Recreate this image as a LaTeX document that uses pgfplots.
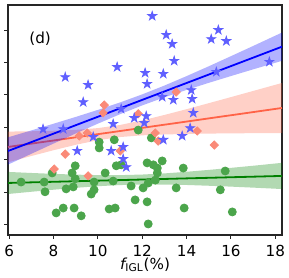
\documentclass[border=0pt]{standalone}
\usepackage{fontspec}
\setmainfont{DejaVu Sans}
\usepackage{pgfplots}
\pgfplotsset{compat=1.18}
\definecolor{starc}{RGB}{95,95,255}
\definecolor{diac}{RGB}{250,138,120}
\definecolor{circc}{RGB}{75,165,75}
\definecolor{tomatoc}{RGB}{255,99,71}
\definecolor{greenc}{RGB}{0,128,0}
\pgfdeclareplotmark{fstar}{%
  \pgfpathmoveto{\pgfqpointpolar{90}{\pgfplotmarksize}}%
  \pgfpathlineto{\pgfqpointpolar{126}{0.382\pgfplotmarksize}}%
  \pgfpathlineto{\pgfqpointpolar{162}{\pgfplotmarksize}}%
  \pgfpathlineto{\pgfqpointpolar{198}{0.382\pgfplotmarksize}}%
  \pgfpathlineto{\pgfqpointpolar{234}{\pgfplotmarksize}}%
  \pgfpathlineto{\pgfqpointpolar{270}{0.382\pgfplotmarksize}}%
  \pgfpathlineto{\pgfqpointpolar{306}{\pgfplotmarksize}}%
  \pgfpathlineto{\pgfqpointpolar{342}{0.382\pgfplotmarksize}}%
  \pgfpathlineto{\pgfqpointpolar{18}{\pgfplotmarksize}}%
  \pgfpathlineto{\pgfqpointpolar{54}{0.382\pgfplotmarksize}}%
  \pgfpathclose
  \pgfusepathqfillstroke}
\begin{document}
\begin{tikzpicture}
\begin{axis}[
  at={(0,0)}, anchor=south west,
  scale only axis, width=137pt, height=115pt,
  xmin=5.95, xmax=18.3, ymin=-0.31, ymax=6.77,
  xtick={6,8,...,18}, ytick={0,...,6}, yticklabels={},
  tick align=outside, xtick pos=bottom, ytick pos=left,
  major tick length=1.8pt,
  tick style={black!85, line width=0.5pt},
  axis line style={black!85, line width=0.6pt},
  font=\fontsize{7.6}{9}\selectfont,
  ticklabel style={font=\fontsize{7.6}{9}\selectfont},
  /pgf/number format/assume math mode=true,
  xlabel={{\itshape f}\textsubscript{IGL}(\%)},
  xlabel style={font=\fontsize{7.6}{9}\selectfont, yshift=6.5pt},
]
% ---- green group ----
\addplot[only marks, mark=*, mark size=2pt, mark options={fill=circc, draw=circc}] coordinates {
(6.54,1.32) (7.58,1.32) (7.62,1.02) (7.94,1.60) (8.98,1.82) (8.84,1.60)
(8.98,1.42) (8.89,1.17) (8.57,1.11) (9.83,1.32) (9.83,1.08) (9.70,0.95)
(10.33,1.60) (10.69,1.35) (10.83,1.82) (11.05,1.85) (11.50,1.20) (12.04,1.14)
(11.68,0.77) (8.12,0.37) (8.44,0.52) (8.93,0.52) (9.25,0.28) (10.51,0.49)
(10.78,0.52) (10.06,2.55) (10.06,2.37) (10.74,2.62) (11.82,2.92) (12.22,1.91)
(12.50,1.85) (12.68,1.75) (12.68,1.60) (12.90,1.97) (12.59,1.38) (12.27,1.29)
(13.53,1.14) (13.85,1.75) (15.74,1.66) (15.52,1.08) (12.22,0.71) (13.89,0.52)
(16.06,0.40) (12.27,0.03) (12.41,2.68)
};
\addplot[draw=none, fill=greenc, fill opacity=0.3] coordinates {
(5.95,1.632) (7,1.599) (8,1.572) (9,1.548) (10,1.534) (11,1.533) (12,1.551)
(13,1.586) (14,1.636) (15,1.694) (16,1.757) (17,1.822) (18.3,1.911)
(18.3,1.105) (17,1.148) (16,1.179) (15,1.206) (14,1.230) (13,1.244) (12,1.245)
(11,1.227) (10,1.192) (9,1.142) (8,1.084) (7,1.021) (5.95,0.952)
} -- cycle;
\addplot[greenc, line width=0.9pt] coordinates {(5.95,1.292) (18.3,1.508)};
% ---- red group ----
\addplot[only marks, mark=square*, mark size=1.45pt, mark options={rotate=45, fill=diac, draw=diac}] coordinates {
(10.29,3.69) (10.24,3.45) (11.82,3.42) (9.16,2.74) (9.52,2.83) (13.53,4.09)
(12.59,2.83) (12.72,2.58) (14.48,2.89) (15.25,2.46) (11.01,2.28) (8.53,2.18)
(8.03,1.72) (9.56,1.51)
};
\addplot[draw=none, fill=tomatoc, fill opacity=0.3] coordinates {
(5.95,2.873) (7,2.883) (8,2.899) (9,2.926) (10,2.980) (11,3.077) (12,3.218)
(13,3.385) (14,3.563) (15,3.748) (16,3.935) (17,4.124) (18.3,4.370)
(18.3,2.830) (17,2.824) (16,2.819) (15,2.812) (14,2.801) (13,2.785) (12,2.758)
(11,2.705) (10,2.608) (9,2.466) (8,2.299) (7,2.121) (5.95,1.927)
} -- cycle;
\addplot[tomatoc, line width=0.9pt] coordinates {(5.95,2.400) (18.3,3.600)};
% ---- blue group ----
\addplot[only marks, mark=fstar, mark size=2.3pt, mark options={fill=starc, draw=starc}] coordinates {
(7.53,2.95) (8.44,2.95) (8.53,4.55) (9.56,4.31) (9.34,3.78) (9.79,2.71)
(9.07,2.28) (10.87,4.86) (11.05,3.57) (10.69,3.11) (11.64,3.29) (12.13,4.68)
(12.45,6.43) (13.08,5.85) (13.35,5.57) (13.44,5.05) (12.95,4.65) (12.22,4.34)
(15.43,6.00) (15.11,5.72) (15.79,5.66) (17.73,5.02) (15.34,4.71) (14.21,4.15)
(14.25,3.88) (13.40,3.85) (12.90,3.94) (14.30,3.45) (12.18,3.35) (12.09,3.14)
(14.16,2.98) (13.80,2.74) (12.95,2.62) (11.14,2.40) (10.60,2.28) (11.14,2.03)
(11.28,1.78)
};
\addplot[draw=none, fill=blue, fill opacity=0.3] coordinates {
(5.95,2.696) (7,2.909) (8,3.115) (9,3.324) (10,3.541) (11,3.770) (12,4.019)
(13,4.290) (14,4.581) (15,4.884) (16,5.195) (17,5.509) (18.3,5.922)
(18.3,5.052) (17,4.789) (16,4.583) (15,4.374) (14,4.157) (13,3.928) (12,3.679)
(11,3.408) (10,3.117) (9,2.814) (8,2.503) (7,2.189) (5.95,1.856)
} -- cycle;
\addplot[blue, line width=0.9pt] coordinates {(5.95,2.276) (18.3,5.487)};
\node[font=\fontsize{7.6}{9}\selectfont] at (axis cs:7.40,5.72) {(d)};
\end{axis}
\pgfresetboundingbox
\path (-4pt,-21.5pt) rectangle (140.5pt,117.5pt);
\end{tikzpicture}
\end{document}
